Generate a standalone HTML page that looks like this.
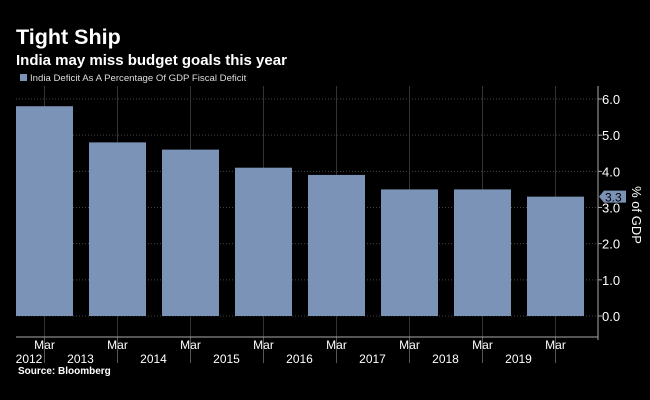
<!DOCTYPE html>
<html><head><meta charset="utf-8"><style>
body{margin:0;background:#000;}
svg{display:block;font-family:"Liberation Sans",sans-serif;}
</style></head><body>
<svg id="c" width="650" height="400" xmlns="http://www.w3.org/2000/svg">
<rect width="650" height="400" fill="#000"/>
<text x="16" y="44" fill="#fff" font-size="21.5" font-weight="bold">Tight Ship</text>
<text x="16" y="65" fill="#fff" font-size="15" font-weight="bold">India may miss budget goals this year</text>
<rect x="20" y="74" width="7" height="7" fill="#7a93b6"/>
<text x="30" y="81" fill="#ddd" font-size="9.6">India Deficit As A Percentage Of GDP Fiscal Deficit</text>
<g id="grid"></g><g id="bars"></g><g id="axes"></g>
<text x="632" y="215" fill="#fff" font-size="13" transform="rotate(90 632 215)" text-anchor="middle">% of GDP</text>
<text x="18" y="374" fill="#fff" font-size="10" font-weight="bold">Source: Bloomberg</text>
</svg>
<script>
const categories=["2012","2013","2014","2015","2016","2017","2018","2019"];
const values=[5.8,4.8,4.6,4.1,3.9,3.5,3.5,3.3];
const yTicks=[0,1,2,3,4,5,6];
const yTickLabels=["0.0","1.0","2.0","3.0","4.0","5.0","6.0"];
const lastLabel="3.3";
const NS="http://www.w3.org/2000/svg";
const y0=316,pxU=36.17,x0=16,step=73,bw=57,axX=598;
const ys=v=>y0-v*pxU, xs=i=>x0+i*step;
function mk(p,t,a){const e=document.createElementNS(NS,t);for(const k in a)e.setAttribute(k,a[k]);document.getElementById(p).appendChild(e);return e;}
yTicks.forEach((v,i)=>{
 const l=mk('grid','line',{x1:16,x2:axX,y1:ys(v),y2:ys(v),stroke:'#444','stroke-dasharray':'1,2'});
 
 
 const t=mk('axes','line',{x1:axX,x2:axX+4,y1:ys(v),y2:ys(v),stroke:'#aaa'});
 
 
 const tx=mk('axes','text',{x:axX+4,y:ys(v)+5,fill:'#fff','font-size':13});
 tx.textContent=yTickLabels[i];
 
 
});
categories.forEach((c,i)=>{
 const cx=xs(i)+bw/2;
 const g=mk('grid','line',{x1:cx,x2:cx,y1:86,y2:337,stroke:'#333'});
 
 
 const b=mk('bars','rect',{x:xs(i),y:ys(values[i]),width:bw,height:values[i]*pxU,fill:'#7a93b6'});
 
 
 const tk=mk('axes','line',{x1:cx,x2:cx,y1:337,y2:363,stroke:'#555'});
 
 
 const m=mk('axes','text',{x:cx,y:349,fill:'#fff','font-size':12,'text-anchor':'middle'});
 m.textContent='Mar';
 
 
 const yr=mk('axes','text',{x:i==0?29:cx-37,y:363,fill:'#fff','font-size':12,'text-anchor':'middle'});
 yr.textContent=c;
 
 
});
const ax=mk('axes','line',{x1:16,x2:axX,y1:337,y2:337,stroke:'#aaa'});


const ay=mk('axes','line',{x1:axX,x2:axX,y1:86,y2:340,stroke:'#aaa'});


const ly=ys(values[values.length-1]);
const tag=mk('axes','path',{d:`M${axX+1} ${ly} L${axX+6} ${ly-6} H${axX+28} V${ly+6} H${axX+6} Z`,fill:'#7a93b6'});


const tt=mk('axes','text',{x:axX+7,y:ly+5,fill:'#000','font-size':12});
tt.textContent=lastLabel;


</script>
</body></html>
